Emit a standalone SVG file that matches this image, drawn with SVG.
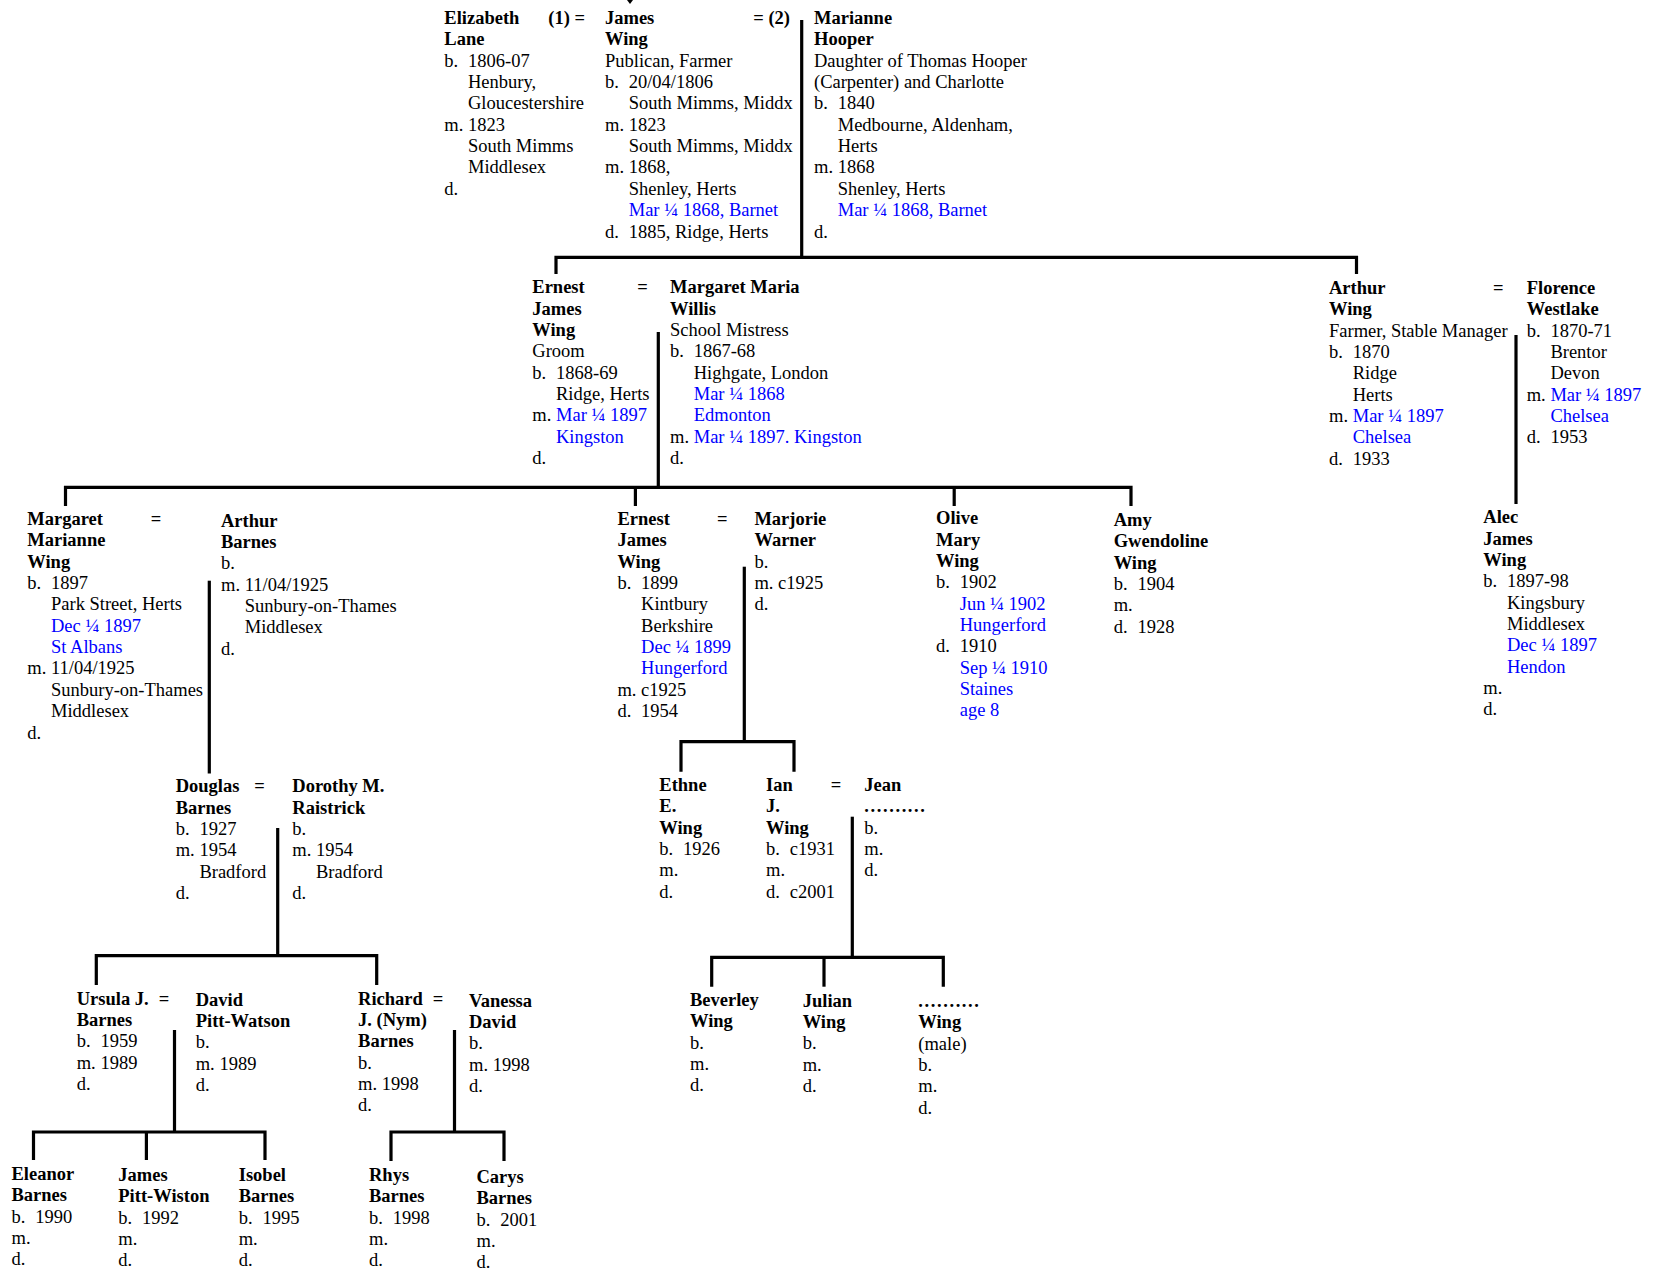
<svg xmlns="http://www.w3.org/2000/svg" width="1660" height="1270" viewBox="0 0 1660 1270">
<style>
text{font-family:"Liberation Serif","Times New Roman",serif;font-size:18.5px;fill:#000}
.b{font-weight:bold}
.bl{fill:#0000ff}
.dots{letter-spacing:1.6px}
.ln{fill:none;stroke:#000;stroke-width:3.2;stroke-linejoin:miter}
</style>
<rect width="1660" height="1270" fill="#fff"/>
<g id="connectors" class="ln">
<polygon points="627,0 633,0 630,4" fill="#000" stroke="none"/>
<line x1="801.7" y1="20" x2="801.7" y2="257.3"/>
<polyline points="556,274 556,257.3 1356.5,257.3 1356.5,274"/>
<line x1="658.3" y1="332" x2="658.3" y2="487.3"/>
<polyline points="65.5,506 65.5,487.3 1131,487.3 1131,506"/>
<line x1="635.4" y1="487.3" x2="635.4" y2="506"/>
<line x1="954.2" y1="487.3" x2="954.2" y2="506"/>
<line x1="1516" y1="335" x2="1516" y2="504"/>
<line x1="209.3" y1="580.7" x2="209.3" y2="773.5"/>
<line x1="744.3" y1="566.7" x2="744.3" y2="741.7"/>
<polyline points="681,771.7 681,741.7 794,741.7 794,771.7"/>
<line x1="852.3" y1="816.7" x2="852.3" y2="957.3"/>
<polyline points="711.7,986.7 711.7,957.3 943.3,957.3 943.3,986.7"/>
<line x1="824" y1="957.3" x2="824" y2="986.7"/>
<line x1="277.7" y1="828" x2="277.7" y2="955.7"/>
<polyline points="96.3,985 96.3,955.7 376.7,955.7 376.7,985"/>
<line x1="174.5" y1="1030" x2="174.5" y2="1132"/>
<polyline points="33.5,1160 33.5,1132 265,1132 265,1160"/>
<line x1="146.4" y1="1132" x2="146.4" y2="1160"/>
<line x1="454.5" y1="1030" x2="454.5" y2="1132"/>
<polyline points="391,1161 391,1132 504,1132 504,1161"/>
</g>

<g id="elizabeth-lane" transform="translate(444.3,24)">
<text class="b" y="0">Elizabeth</text><text class="b" x="104" y="0">(1) =</text>
<text class="b" y="21.35">Lane</text>
<text y="42.7"><tspan>b.</tspan><tspan x="23.7">1806-07</tspan></text>
<text x="23.7" y="64.05">Henbury,</text>
<text x="23.7" y="85.4">Gloucestershire</text>
<text y="106.75"><tspan>m.</tspan><tspan x="23.7">1823</tspan></text>
<text x="23.7" y="128.1">South Mimms</text>
<text x="23.7" y="149.45">Middlesex</text>
<text y="170.8">d.</text>
</g>

<g id="james-wing" transform="translate(605,24)">
<text class="b" y="0">James</text><text class="b" x="148.3" y="0">= (2)</text>
<text class="b" y="21.35">Wing</text>
<text y="42.7">Publican, Farmer</text>
<text y="64.05"><tspan>b.</tspan><tspan x="23.7">20/04/1806</tspan></text>
<text x="23.7" y="85.4">South Mimms, Middx</text>
<text y="106.75"><tspan>m.</tspan><tspan x="23.7">1823</tspan></text>
<text x="23.7" y="128.1">South Mimms, Middx</text>
<text y="149.45"><tspan>m.</tspan><tspan x="23.7">1868,</tspan></text>
<text x="23.7" y="170.8">Shenley, Herts</text>
<text class="bl" x="23.7" y="192.15">Mar ¼ 1868, Barnet</text>
<text y="213.5"><tspan>d.</tspan><tspan x="23.7">1885, Ridge, Herts</tspan></text>
</g>

<g id="marianne-hooper" transform="translate(814,24)">
<text class="b" y="0">Marianne</text>
<text class="b" y="21.35">Hooper</text>
<text y="42.7">Daughter of Thomas Hooper</text>
<text y="64.05">(Carpenter) and Charlotte</text>
<text y="85.4"><tspan>b.</tspan><tspan x="23.7">1840</tspan></text>
<text x="23.7" y="106.75">Medbourne, Aldenham,</text>
<text x="23.7" y="128.1">Herts</text>
<text y="149.45"><tspan>m.</tspan><tspan x="23.7">1868</tspan></text>
<text x="23.7" y="170.8">Shenley, Herts</text>
<text class="bl" x="23.7" y="192.15">Mar ¼ 1868, Barnet</text>
<text y="213.5">d.</text>
</g>

<g id="ernest-james-wing-1" transform="translate(532.3,293.3)">
<text class="b" y="0">Ernest</text><text class="b" x="105" y="0">=</text>
<text class="b" y="21.35">James</text>
<text class="b" y="42.7">Wing</text>
<text y="64.05">Groom</text>
<text y="85.4"><tspan>b.</tspan><tspan x="23.7">1868-69</tspan></text>
<text x="23.7" y="106.75">Ridge, Herts</text>
<text y="128.1"><tspan>m.</tspan><tspan class="bl" x="23.7">Mar ¼ 1897</tspan></text>
<text class="bl" x="23.7" y="149.45">Kingston</text>
<text y="170.8">d.</text>
</g>

<g id="margaret-maria-willis" transform="translate(670,293.3)">
<text class="b" y="0">Margaret Maria</text>
<text class="b" y="21.35">Willis</text>
<text y="42.7">School Mistress</text>
<text y="64.05"><tspan>b.</tspan><tspan x="23.7">1867-68</tspan></text>
<text x="23.7" y="85.4">Highgate, London</text>
<text class="bl" x="23.7" y="106.75">Mar ¼ 1868</text>
<text class="bl" x="23.7" y="128.1">Edmonton</text>
<text y="149.45"><tspan>m.</tspan><tspan class="bl" x="23.7">Mar ¼ 1897. Kingston</tspan></text>
<text y="170.8">d.</text>
</g>

<g id="arthur-wing" transform="translate(1329,294)">
<text class="b" y="0">Arthur</text><text class="b" x="164" y="0">=</text>
<text class="b" y="21.35">Wing</text>
<text y="42.7">Farmer, Stable Manager</text>
<text y="64.05"><tspan>b.</tspan><tspan x="23.7">1870</tspan></text>
<text x="23.7" y="85.4">Ridge</text>
<text x="23.7" y="106.75">Herts</text>
<text y="128.1"><tspan>m.</tspan><tspan class="bl" x="23.7">Mar ¼ 1897</tspan></text>
<text class="bl" x="23.7" y="149.45">Chelsea</text>
<text y="170.8"><tspan>d.</tspan><tspan x="23.7">1933</tspan></text>
</g>

<g id="florence-westlake" transform="translate(1526.7,294)">
<text class="b" y="0">Florence</text>
<text class="b" y="21.35">Westlake</text>
<text y="42.7"><tspan>b.</tspan><tspan x="23.7">1870-71</tspan></text>
<text x="23.7" y="64.05">Brentor</text>
<text x="23.7" y="85.4">Devon</text>
<text y="106.75"><tspan>m.</tspan><tspan class="bl" x="23.7">Mar ¼ 1897</tspan></text>
<text class="bl" x="23.7" y="128.1">Chelsea</text>
<text y="149.45"><tspan>d.</tspan><tspan x="23.7">1953</tspan></text>
</g>

<g id="margaret-marianne-wing" transform="translate(27.3,525)">
<text class="b" y="0">Margaret</text><text class="b" x="123.4" y="0">=</text>
<text class="b" y="21.35">Marianne</text>
<text class="b" y="42.7">Wing</text>
<text y="64.05"><tspan>b.</tspan><tspan x="23.7">1897</tspan></text>
<text x="23.7" y="85.4">Park Street, Herts</text>
<text class="bl" x="23.7" y="106.75">Dec ¼ 1897</text>
<text class="bl" x="23.7" y="128.1">St Albans</text>
<text y="149.45"><tspan>m.</tspan><tspan x="23.7">11/04/1925</tspan></text>
<text x="23.7" y="170.8">Sunbury-on-Thames</text>
<text x="23.7" y="192.15">Middlesex</text>
<text y="213.5">d.</text>
</g>

<g id="arthur-barnes" transform="translate(221,526.7)">
<text class="b" y="0">Arthur</text>
<text class="b" y="21.35">Barnes</text>
<text y="42.7">b.</text>
<text y="64.05"><tspan>m.</tspan><tspan x="23.7">11/04/1925</tspan></text>
<text x="23.7" y="85.4">Sunbury-on-Thames</text>
<text x="23.7" y="106.75">Middlesex</text>
<text y="128.1">d.</text>
</g>

<g id="ernest-james-wing-2" transform="translate(617.4,525)">
<text class="b" y="0">Ernest</text><text class="b" x="99.6" y="0">=</text>
<text class="b" y="21.35">James</text>
<text class="b" y="42.7">Wing</text>
<text y="64.05"><tspan>b.</tspan><tspan x="23.7">1899</tspan></text>
<text x="23.7" y="85.4">Kintbury</text>
<text x="23.7" y="106.75">Berkshire</text>
<text class="bl" x="23.7" y="128.1">Dec ¼ 1899</text>
<text class="bl" x="23.7" y="149.45">Hungerford</text>
<text y="170.8"><tspan>m.</tspan><tspan x="23.7">c1925</tspan></text>
<text y="192.15"><tspan>d.</tspan><tspan x="23.7">1954</tspan></text>
</g>

<g id="marjorie-warner" transform="translate(754.4,525)">
<text class="b" y="0">Marjorie</text>
<text class="b" y="21.35">Warner</text>
<text y="42.7">b.</text>
<text y="64.05"><tspan>m.</tspan><tspan x="23.7">c1925</tspan></text>
<text y="85.4">d.</text>
</g>

<g id="olive-mary-wing" transform="translate(936,524.3)">
<text class="b" y="0">Olive</text>
<text class="b" y="21.35">Mary</text>
<text class="b" y="42.7">Wing</text>
<text y="64.05"><tspan>b.</tspan><tspan x="23.7">1902</tspan></text>
<text class="bl" x="23.7" y="85.4">Jun ¼ 1902</text>
<text class="bl" x="23.7" y="106.75">Hungerford</text>
<text y="128.1"><tspan>d.</tspan><tspan x="23.7">1910</tspan></text>
<text class="bl" x="23.7" y="149.45">Sep ¼ 1910</text>
<text class="bl" x="23.7" y="170.8">Staines</text>
<text class="bl" x="23.7" y="192.15">age 8</text>
</g>

<g id="amy-gwendoline-wing" transform="translate(1113.7,526)">
<text class="b" y="0">Amy</text>
<text class="b" y="21.35">Gwendoline</text>
<text class="b" y="42.7">Wing</text>
<text y="64.05"><tspan>b.</tspan><tspan x="23.7">1904</tspan></text>
<text y="85.4">m.</text>
<text y="106.75"><tspan>d.</tspan><tspan x="23.7">1928</tspan></text>
</g>

<g id="alec-james-wing" transform="translate(1483.3,523.3)">
<text class="b" y="0">Alec</text>
<text class="b" y="21.35">James</text>
<text class="b" y="42.7">Wing</text>
<text y="64.05"><tspan>b.</tspan><tspan x="23.7">1897-98</tspan></text>
<text x="23.7" y="85.4">Kingsbury</text>
<text x="23.7" y="106.75">Middlesex</text>
<text class="bl" x="23.7" y="128.1">Dec ¼ 1897</text>
<text class="bl" x="23.7" y="149.45">Hendon</text>
<text y="170.8">m.</text>
<text y="192.15">d.</text>
</g>

<g id="douglas-barnes" transform="translate(175.7,792.3)">
<text class="b" y="0">Douglas</text><text class="b" x="78.6" y="0">=</text>
<text class="b" y="21.35">Barnes</text>
<text y="42.7"><tspan>b.</tspan><tspan x="23.7">1927</tspan></text>
<text y="64.05"><tspan>m.</tspan><tspan x="23.7">1954</tspan></text>
<text x="23.7" y="85.4">Bradford</text>
<text y="106.75">d.</text>
</g>

<g id="dorothy-raistrick" transform="translate(292.3,792.3)">
<text class="b" y="0">Dorothy M.</text>
<text class="b" y="21.35">Raistrick</text>
<text y="42.7">b.</text>
<text y="64.05"><tspan>m.</tspan><tspan x="23.7">1954</tspan></text>
<text x="23.7" y="85.4">Bradford</text>
<text y="106.75">d.</text>
</g>

<g id="ethne-wing" transform="translate(659.3,791)">
<text class="b" y="0">Ethne</text>
<text class="b" y="21.35">E.</text>
<text class="b" y="42.7">Wing</text>
<text y="64.05"><tspan>b.</tspan><tspan x="23.7">1926</tspan></text>
<text y="85.4">m.</text>
<text y="106.75">d.</text>
</g>

<g id="ian-wing" transform="translate(766,791)">
<text class="b" y="0">Ian</text><text class="b" x="64.7" y="0">=</text>
<text class="b" y="21.35">J.</text>
<text class="b" y="42.7">Wing</text>
<text y="64.05"><tspan>b.</tspan><tspan x="23.7">c1931</tspan></text>
<text y="85.4">m.</text>
<text y="106.75"><tspan>d.</tspan><tspan x="23.7">c2001</tspan></text>
</g>

<g id="jean" transform="translate(864.3,791)">
<text class="b" y="0">Jean</text>
<text class="b dots" y="21.35">..........</text>
<text y="42.7">b.</text>
<text y="64.05">m.</text>
<text y="85.4">d.</text>
</g>

<g id="ursula-barnes" transform="translate(76.7,1004.7)">
<text class="b" y="0">Ursula J.</text><text class="b" x="82.1" y="0">=</text>
<text class="b" y="21.35">Barnes</text>
<text y="42.7"><tspan>b.</tspan><tspan x="23.7">1959</tspan></text>
<text y="64.05"><tspan>m.</tspan><tspan x="23.7">1989</tspan></text>
<text y="85.4">d.</text>
</g>

<g id="david-pitt-watson" transform="translate(195.7,1005.7)">
<text class="b" y="0">David</text>
<text class="b" y="21.35">Pitt-Watson</text>
<text y="42.7">b.</text>
<text y="64.05"><tspan>m.</tspan><tspan x="23.7">1989</tspan></text>
<text y="85.4">d.</text>
</g>

<g id="richard-barnes" transform="translate(358.1,1004.7)">
<text class="b" y="0">Richard</text><text class="b" x="74.6" y="0">=</text>
<text class="b" y="21.35">J. (Nym)</text>
<text class="b" y="42.7">Barnes</text>
<text y="64.05">b.</text>
<text y="85.4"><tspan>m.</tspan><tspan x="23.7">1998</tspan></text>
<text y="106.75">d.</text>
</g>

<g id="vanessa-david" transform="translate(469,1006.7)">
<text class="b" y="0">Vanessa</text>
<text class="b" y="21.35">David</text>
<text y="42.7">b.</text>
<text y="64.05"><tspan>m.</tspan><tspan x="23.7">1998</tspan></text>
<text y="85.4">d.</text>
</g>

<g id="beverley-wing" transform="translate(690,1006)">
<text class="b" y="0">Beverley</text>
<text class="b" y="21.35">Wing</text>
<text y="42.7">b.</text>
<text y="64.05">m.</text>
<text y="85.4">d.</text>
</g>

<g id="julian-wing" transform="translate(802.7,1006.7)">
<text class="b" y="0">Julian</text>
<text class="b" y="21.35">Wing</text>
<text y="42.7">b.</text>
<text y="64.05">m.</text>
<text y="85.4">d.</text>
</g>

<g id="male-wing" transform="translate(918.3,1007)">
<text class="b dots" y="0">..........</text>
<text class="b" y="21.35">Wing</text>
<text y="42.7">(male)</text>
<text y="64.05">b.</text>
<text y="85.4">m.</text>
<text y="106.75">d.</text>
</g>

<g id="eleanor-barnes" transform="translate(11.5,1180)">
<text class="b" y="0">Eleanor</text>
<text class="b" y="21.35">Barnes</text>
<text y="42.7"><tspan>b.</tspan><tspan x="23.7">1990</tspan></text>
<text y="64.05">m.</text>
<text y="85.4">d.</text>
</g>

<g id="james-pitt-wiston" transform="translate(118.3,1181)">
<text class="b" y="0">James</text>
<text class="b" y="21.35">Pitt-Wiston</text>
<text y="42.7"><tspan>b.</tspan><tspan x="23.7">1992</tspan></text>
<text y="64.05">m.</text>
<text y="85.4">d.</text>
</g>

<g id="isobel-barnes" transform="translate(238.7,1181)">
<text class="b" y="0">Isobel</text>
<text class="b" y="21.35">Barnes</text>
<text y="42.7"><tspan>b.</tspan><tspan x="23.7">1995</tspan></text>
<text y="64.05">m.</text>
<text y="85.4">d.</text>
</g>

<g id="rhys-barnes" transform="translate(369,1181)">
<text class="b" y="0">Rhys</text>
<text class="b" y="21.35">Barnes</text>
<text y="42.7"><tspan>b.</tspan><tspan x="23.7">1998</tspan></text>
<text y="64.05">m.</text>
<text y="85.4">d.</text>
</g>

<g id="carys-barnes" transform="translate(476.5,1183)">
<text class="b" y="0">Carys</text>
<text class="b" y="21.35">Barnes</text>
<text y="42.7"><tspan>b.</tspan><tspan x="23.7">2001</tspan></text>
<text y="64.05">m.</text>
<text y="85.4">d.</text>
</g>
</svg>
